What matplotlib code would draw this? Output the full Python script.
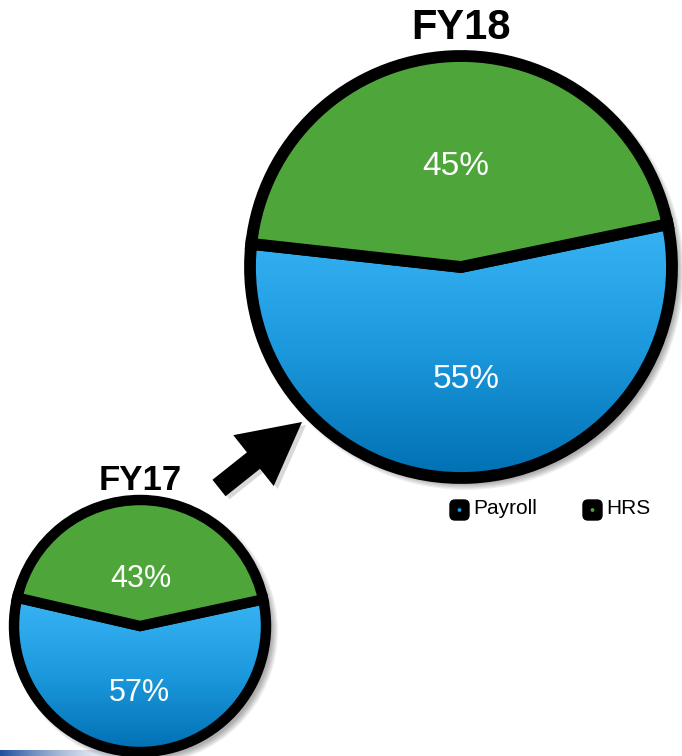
import matplotlib.pyplot as plt
import matplotlib.patches as mpatches
from matplotlib.colors import LinearSegmentedColormap, to_rgb
import numpy as np

plt.rcParams['font.family'] = ['Liberation Sans', 'DejaVu Sans']

labels = ['Payroll', 'HRS']
fy17 = [57, 43]
fy18 = [55, 45]
titles = ['FY17', 'FY18']

green = '#4ea63a'
blue_cmap = LinearSegmentedColormap.from_list('bl', ['#3cb8f8', '#1e9be0', '#0070b2'])

W, H = 682, 756
fig = plt.figure(figsize=(W / 100, H / 100), dpi=100)
ax = fig.add_axes([0, 0, 1, 1])


def shadow(cx, cy, r):
    for k in range(6):
        ax.add_patch(mpatches.Circle((cx + 5, cy - 5), r + 1 + k * 1.2,
                                     color='black', alpha=0.06, lw=0, zorder=0))


def draw_pie(vals, cx, cy, r, start, lw, pctdist, fs, title, tfs, ty, shifts):
    shadow(cx, cy, r)
    wedges, texts, autotexts = ax.pie(
        vals, center=(cx, cy), radius=r, startangle=start, counterclock=True,
        colors=['none', green], autopct='%d%%', pctdistance=pctdist,
        wedgeprops=dict(edgecolor='black', linewidth=lw, joinstyle='miter'),
        textprops=dict(color='white', fontsize=fs))
    for w in wedges:
        w.set_zorder(3)
    # gradient fill for payroll wedge
    grad = np.linspace(0, 1, 256).reshape(-1, 1)
    top = cy + r * 0.3
    im = ax.imshow(grad, cmap=blue_cmap, extent=(cx - r, cx + r, cy - r, top),
                   origin='upper', aspect='auto', zorder=2)
    im.set_clip_path(wedges[0])
    for t, dy in zip(autotexts, shifts):
        x, y = t.get_position()
        t.set_position((x, y + dy))
        t.set_zorder(5)
    ax.text(cx, ty, title, ha='center', va='center', fontsize=tfs,
            fontweight='bold', color='black')


draw_pie(fy18, 461, H - 267, 211, 173.7, 8.5, 0.5, 24, titles[1], 30, H - 28, (-7, -5))
draw_pie(fy17, 140, H - 626, 126, 167.0, 7.5, 0.46, 22, titles[0], 25, H - 481, (-9, -11))

# arrow with shadow
ax.add_patch(mpatches.FancyArrow(223, H - 491, 83, 66, width=21, head_width=65,
                                 head_length=62, length_includes_head=True,
                                 color='black', alpha=0.15, lw=0, zorder=1))
ax.add_patch(mpatches.FancyArrow(219, H - 488, 83, 66, width=21, head_width=65,
                                 head_length=62, length_includes_head=True,
                                 color='black', lw=0, zorder=4))

# legend
leg_x = [450, 583]
dot_cols = ['#1e9be0', green]
for x0, lab, dc in zip(leg_x, labels, dot_cols):
    ax.add_patch(mpatches.FancyBboxPatch((x0 + 2, H - 518), 15, 16,
                                         boxstyle='round,pad=2,rounding_size=5',
                                         color='black', zorder=4))
    ax.add_patch(mpatches.Circle((x0 + 9.5, H - 510), 1.2, color=dc, zorder=5))
    ax.text(x0 + 23, H - 509, lab, ha='left', va='center', fontsize=15,
            color='black')

# bottom-left blue strip
strip = np.zeros((1, 256, 4))
strip[..., :3] = to_rgb('#1d4f9c')
strip[0, :, 3] = np.linspace(1, 0, 256) ** 1.5
ax.imshow(strip, extent=(0, 130, 0, 6), aspect='auto', zorder=1)

ax.set_xlim(0, W)
ax.set_ylim(0, H)
ax.set_aspect('auto')
ax.axis('off')

fig.savefig('out.png', dpi=100)
